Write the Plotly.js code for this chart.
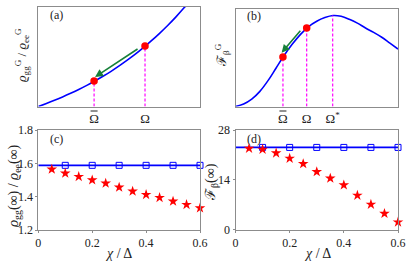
<!DOCTYPE html>
<html>
<head>
<meta charset="utf-8">
<script src="https://cdn.plot.ly/plotly-3.0.1.min.js"></script>
<style>html,body{margin:0;padding:0;background:#fff;}#plot{width:407px;height:265px;}</style>
</head>
<body>
<div id="plot"></div>
<script>
// Panel (a): schematic curve (normalised units)
const curveAX = [0, 0.05, 0.1, 0.15, 0.2, 0.25, 0.3, 0.35, 0.4, 0.45, 0.5, 0.55, 0.6, 0.65, 0.7, 0.75, 0.8, 0.85, 0.9, 0.95];
const curveAY = [0, 0.03, 0.062, 0.096, 0.132, 0.17, 0.211, 0.255, 0.302, 0.352, 0.406, 0.463, 0.523, 0.588, 0.658, 0.732, 0.81, 0.894, 0.984, 1.08];
const pointsAX = [0.345, 0.66];
const pointsAY = [0.255, 0.605];
const ticksA = ['Ω', 'Ω'];
const barredA = [true, false];
const arrowA = {tail: [0.623, 0.585], head: [0.351, 0.295]};

// Panel (b): schematic curve
const curveBX = [0, 0.05, 0.1, 0.15, 0.2, 0.25, 0.3, 0.35, 0.4, 0.45, 0.5, 0.55, 0.6, 0.65, 0.7, 0.75, 0.8, 0.85, 0.9, 0.95, 1.0];
const curveBY = [0, 0.025, 0.075, 0.155, 0.265, 0.395, 0.525, 0.64, 0.74, 0.82, 0.875, 0.912, 0.933, 0.925, 0.895, 0.855, 0.805, 0.76, 0.71, 0.65, 0.59];
const pointsBX = [0.292, 0.438];
const pointsBY = [0.508, 0.805];
const peakBX = 0.598, peakBY = 0.933;
const ticksB = ['Ω', 'Ω', 'Ω<sup>*</sup>'];
const barredB = [true, false, false];
const arrowB = {tail: [0.407, 0.792], head: [0.284, 0.552]};

// Panels (c),(d)
const chi = [0.05, 0.1, 0.15, 0.2, 0.25, 0.3, 0.35, 0.4, 0.45, 0.5, 0.55, 0.6];
const ratioStars = [1.564, 1.54, 1.52, 1.50, 1.48, 1.456, 1.432, 1.412, 1.394, 1.372, 1.352, 1.332];
const chiSq = [0.1, 0.2, 0.3, 0.4, 0.5, 0.6];
const ratioLine = 1.588;
const fisherStars = [22.8, 22.55, 21.5, 20.0, 18.5, 16.25, 14.4, 12.5, 9.6, 7.05, 4.5, 2.07];
const fisherLine = 23.1;

const BLUE = '#0000ff', RED = '#ff0000', MAG = '#ff00ff', GREEN = '#17803a', FRAME = '#8c8c8c', INK = '#222';
const FONT = 'Liberation Serif, Times New Roman, serif';

const traces = [];
// (a)
traces.push({x: curveAX, y: curveAY, xaxis: 'x', yaxis: 'y', mode: 'lines', line: {color: BLUE, width: 1.6, shape: 'spline'}});
pointsAX.forEach((p, i) => traces.push({x: [p, p], y: [0, pointsAY[i]], xaxis: 'x', yaxis: 'y', mode: 'lines', line: {color: MAG, width: 1.2, dash: '3px,2px'}}));
traces.push({x: pointsAX, y: pointsAY, xaxis: 'x', yaxis: 'y', mode: 'markers', marker: {color: RED, size: 7.5}});
// (b)
traces.push({x: curveBX, y: curveBY, xaxis: 'x2', yaxis: 'y2', mode: 'lines', line: {color: BLUE, width: 1.6, shape: 'spline'}});
const dashB = pointsBX.concat([peakBX]);
const dashBY = pointsBY.concat([peakBY]);
dashB.forEach((p, i) => traces.push({x: [p, p], y: [0, dashBY[i]], xaxis: 'x2', yaxis: 'y2', mode: 'lines', line: {color: MAG, width: 1.2, dash: '3px,2px'}}));
traces.push({x: pointsBX, y: pointsBY, xaxis: 'x2', yaxis: 'y2', mode: 'markers', marker: {color: RED, size: 7.5}});
// (c)
traces.push({x: [0, 0.6], y: [ratioLine, ratioLine], xaxis: 'x3', yaxis: 'y3', mode: 'lines', line: {color: BLUE, width: 1.6}});
traces.push({x: chiSq, y: chiSq.map(() => ratioLine), xaxis: 'x3', yaxis: 'y3', mode: 'markers', cliponaxis: false, marker: {symbol: 'square-open', color: BLUE, size: 6, line: {width: 1}}});
traces.push({x: chi, y: ratioStars, xaxis: 'x3', yaxis: 'y3', mode: 'markers', cliponaxis: false, marker: {symbol: 'star', color: RED, size: 8, line: {width: 0}}});
// (d)
traces.push({x: [0, 0.6], y: [fisherLine, fisherLine], xaxis: 'x4', yaxis: 'y4', mode: 'lines', line: {color: BLUE, width: 1.6}});
traces.push({x: chiSq, y: chiSq.map(() => fisherLine), xaxis: 'x4', yaxis: 'y4', mode: 'markers', cliponaxis: false, marker: {symbol: 'square-open', color: BLUE, size: 6, line: {width: 1}}});
traces.push({x: chi, y: fisherStars, xaxis: 'x4', yaxis: 'y4', mode: 'markers', cliponaxis: false, marker: {symbol: 'star', color: RED, size: 8, line: {width: 0}}});

const W = 407, H = 265;
const px = v => v / W, py = v => 1 - v / H;

const domL = [px(38.3), px(200)], domR = [px(235.5), px(398)];
const frame = {showline: true, mirror: true, linecolor: FRAME, linewidth: 1, zeroline: false, showgrid: false};
const tf = {family: FONT, size: 12, color: INK};
const tfO = {family: FONT, size: 13, color: INK};

// macron bars over the barred Omega tick labels (placed in paper units from the axis domain)
const shapes = [];
const macron = (dom, p) => {
  const xc = dom[0] + p * (dom[1] - dom[0]);
  shapes.push({type: 'line', xref: 'paper', yref: 'paper', x0: xc - px(3.5), x1: xc + px(3.5), y0: py(111), y1: py(111), line: {color: INK, width: 1}});
};
pointsAX.forEach((p, i) => { if (barredA[i]) macron(domL, p); });
dashB.forEach((p, i) => { if (barredB[i]) macron(domR, p); });

const ann = (x, y, text, size, angle, anchor) => ({xref: 'paper', yref: 'paper', x: px(x), y: py(y), xanchor: anchor || 'center', yanchor: 'middle', showarrow: false, text: text, textangle: angle || 0, font: {family: FONT, size: size, color: INK}});

const layout = {
  width: W, height: H, margin: {l: 0, r: 0, t: 0, b: 0},
  paper_bgcolor: '#fff', plot_bgcolor: '#fff', showlegend: false,
  font: {family: FONT, color: INK},
  shapes: shapes,
  xaxis: Object.assign({}, frame, {domain: domL, anchor: 'y', range: [0, 1], tickvals: pointsAX, ticktext: ticksA, ticks: '', tickfont: tfO}),
  yaxis: Object.assign({}, frame, {domain: [py(106.5), py(6.5)], anchor: 'x', range: [0, 1], showticklabels: false, ticks: ''}),
  xaxis2: Object.assign({}, frame, {domain: domR, anchor: 'y2', range: [0, 1], tickvals: dashB, ticktext: ticksB, ticks: '', tickfont: tfO}),
  yaxis2: Object.assign({}, frame, {domain: [py(106.5), py(9)], anchor: 'x2', range: [0, 1], showticklabels: false, ticks: ''}),
  xaxis3: Object.assign({}, frame, {domain: domL, anchor: 'y3', range: [0, 0.6], tickvals: [0, 0.2, 0.4, 0.6], ticktext: ['0', '0.2', '0.4', '0.6'], ticks: 'outside', ticklen: 2, tickcolor: FRAME, tickfont: tf}),
  yaxis3: Object.assign({}, frame, {domain: [py(230), py(130)], anchor: 'x3', range: [1.2, 1.8], tickvals: [1.2, 1.4, 1.6, 1.8], ticktext: ['1.2', '1.4', '1.6', '1.8'], ticks: 'outside', ticklen: 2, tickcolor: FRAME, tickfont: tf}),
  xaxis4: Object.assign({}, frame, {domain: domR, anchor: 'y4', range: [0, 0.6], tickvals: [0, 0.2, 0.4, 0.6], ticktext: ['0', '0.2', '0.4', '0.6'], ticks: 'outside', ticklen: 2, tickcolor: FRAME, tickfont: tf}),
  yaxis4: Object.assign({}, frame, {domain: [py(229.5), py(130)], anchor: 'x4', range: [0, 28], tickvals: [0, 14, 28], ticktext: ['0', '14', '28'], ticks: 'outside', ticklen: 2, tickcolor: FRAME, tickfont: tf}),
  annotations: [
    {xref: 'x', yref: 'y', axref: 'x', ayref: 'y', x: arrowA.head[0], y: arrowA.head[1], ax: arrowA.tail[0], ay: arrowA.tail[1], showarrow: true, arrowhead: 2, arrowsize: 1, arrowwidth: 1.6, arrowcolor: GREEN, text: ''},
    {xref: 'x2', yref: 'y2', axref: 'x2', ayref: 'y2', x: arrowB.head[0], y: arrowB.head[1], ax: arrowB.tail[0], ay: arrowB.tail[1], showarrow: true, arrowhead: 2, arrowsize: 1, arrowwidth: 1.6, arrowcolor: GREEN, text: ''},
    ann(48, 15, '(a)', 12, 0, 'left'),
    ann(245, 16, '(b)', 12, 0, 'left'),
    ann(48, 139, '(c)', 12, 0, 'left'),
    ann(245, 139, '(d)', 12, 0, 'left'),
    ann(22, 55, '<i>ϱ</i><sub>gg</sub><sup>G</sup> / <i>ϱ</i><sub>ee</sub><sup>G</sup>', 13, -90),
    ann(222, 55, 'ℱ<sub>β</sub><sup>G</sup>', 13, -90),
    ann(14, 186, '<i>ϱ</i><sub>gg</sub>(∞) / <i>ϱ</i><sub>ee</sub>(∞)', 14, -90),
    ann(211, 182, 'ℱ<sub>β</sub>(∞)', 14, -90),
    ann(119, 253, '<i>χ</i> / Δ', 14),
    ann(317, 253, '<i>χ</i> / Δ', 14)
  ]
};

Plotly.newPlot('plot', traces, layout, {staticPlot: true, displayModeBar: false});
</script>
</body>
</html>
